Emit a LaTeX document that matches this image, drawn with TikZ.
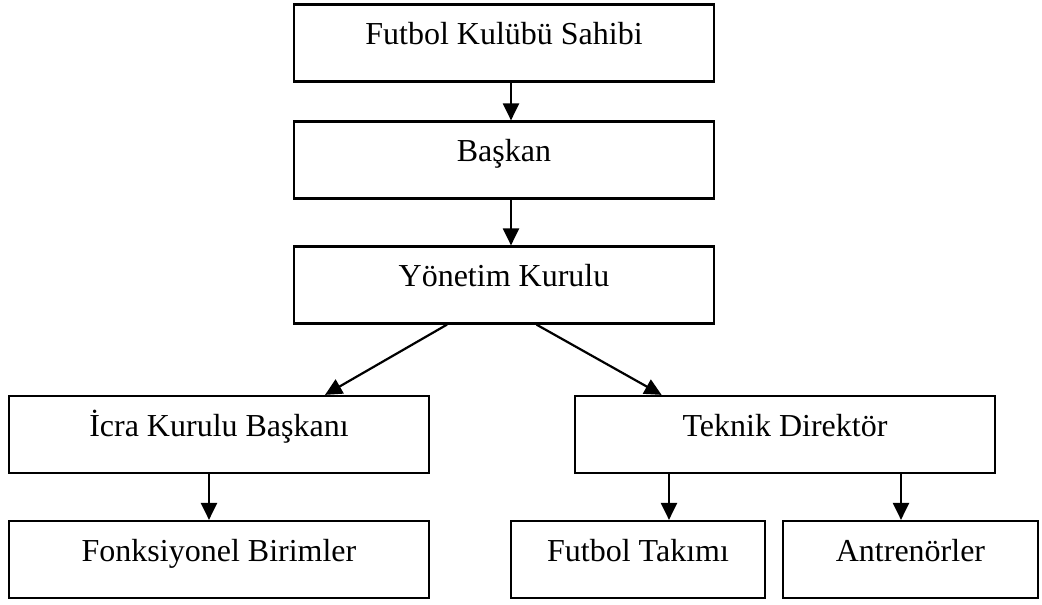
\documentclass[tikz,border=0pt]{standalone}
\usepackage{fontspec}
\setmainfont{Liberation Serif}
\usetikzlibrary{arrows.meta}
\begin{document}
\begin{tikzpicture}[x=1pt,y=-1pt,
  orgbox/.style={draw=black, line width=2.2pt, inner sep=0pt, minimum height=77pt,
    text height=40pt, text depth=37pt, font=\fontsize{32}{38}\selectfont},
  arr/.style={draw=black, line width=2.2pt, -{Triangle[length=17pt,width=16pt]}}]
\useasboundingbox (0,0) rectangle (1042,605);
\node[orgbox, minimum width=420pt] (B1) at (504,43) {Futbol Kulübü Sahibi};
\node[orgbox, minimum width=420pt] (B2) at (504,160) {Başkan};
\node[orgbox, minimum width=420pt] (B3) at (504,285) {Yönetim Kurulu};
\node[orgbox, minimum width=420pt] (B4) at (219,434.5) {İcra Kurulu Başkanı};
\node[orgbox, minimum width=420pt] (B5) at (785,434.5) {Teknik Direktör};
\node[orgbox, minimum width=420pt] (B6) at (219,559.5) {Fonksiyonel Birimler};
\node[orgbox, minimum width=254pt] (B7) at (638,559.5) {Futbol Takımı};
\node[orgbox, minimum width=255pt] (B8) at (910.5,559.5) {Antrenörler};
\draw[arr] ([xshift=7pt]B1.south) -- ([xshift=7pt]B2.north);
\draw[arr] ([xshift=7pt]B2.south) -- ([xshift=7pt]B3.north);
\draw[arr] ([xshift=-57pt]B3.south) -- ([xshift=106pt]B4.north);
\draw[arr] ([xshift=32.5pt]B3.south) -- ([xshift=-123.4pt]B5.north);
\draw[arr] ([xshift=-10pt]B4.south) -- ([xshift=-10pt]B6.north);
\draw[arr] ([xshift=-116pt]B5.south) -- ([xshift=-116pt]B5.south |- B7.north);
\draw[arr] ([xshift=116pt]B5.south) -- ([xshift=116pt]B5.south |- B8.north);
\end{tikzpicture}
\end{document}
